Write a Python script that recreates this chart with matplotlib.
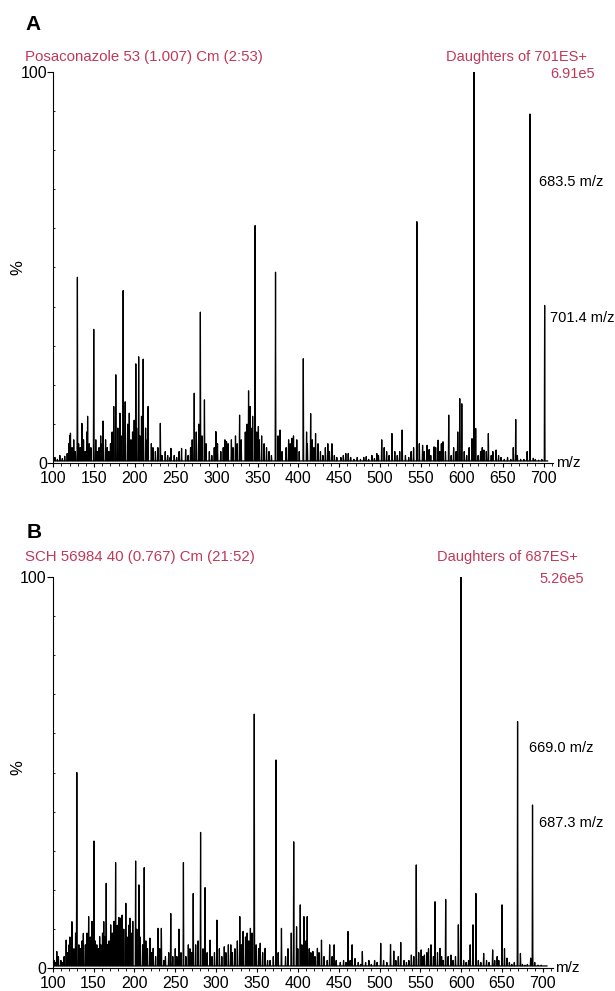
import numpy as np
import matplotlib.pyplot as plt
from matplotlib.ticker import MultipleLocator

plt.rcParams['font.family'] = ['Liberation Sans', 'DejaVu Sans']

RED = '#c0395a'

# Спектр A: основные пики (m/z, %)
peaks_a_mz = [121, 129.5, 135, 142, 149.5, 161, 174, 176.5, 181.5, 185.5,
              188, 193, 201, 204.5, 210, 216, 231, 244, 257, 272.5,
              280, 285, 299, 312, 328, 339, 341, 347, 351, 372,
              377.5, 392, 398, 406, 410, 415, 421, 436, 441, 458,
              483, 496, 502, 514.5, 527, 545, 552, 557.5, 566, 571,
              577, 584, 597.5, 600, 612.5, 615, 617, 627, 632.5, 642,
              666, 683.5, 687.5, 701.4]
peaks_a_pct = [7.7, 47.5, 10.2, 12, 34.2, 10.8, 14.5, 22.6, 12.8, 44.1,
               15.7, 12.8, 25.4, 27.2, 26.6, 14.5, 10.2, 3.8, 3.8, 17.9,
               38.6, 16.2, 8.1, 5.5, 12.3, 18.5, 14.5, 60.7, 9.4, 48.8,
               8.5, 6.4, 6, 26.7, 8, 12.7, 7.6, 5, 5, 2.5,
               1.7, 2.5, 6, 7.6, 8.5, 61.7, 4.6, 4.6, 4.2, 5.9,
               5.5, 12.3, 16.5, 15.2, 6.3, 100, 8.9, 3.4, 7.6, 3.4,
               11.2, 89.2, 1.3, 40.3]

# Спектр A: мелкие пики (шум)
noise_a_mz = [102, 105, 108, 111, 114, 117, 119, 120, 123, 125, 127, 131, 133, 137, 139,
              141, 144, 146, 152, 154, 156, 158, 160, 164, 166, 168, 170, 172,
              179, 183, 191, 195, 197, 199, 202, 206, 208, 213, 215, 220, 222, 225, 228, 233, 237,
              240, 243, 248, 251, 254, 262, 265, 268, 270, 275, 278, 282, 287, 291, 294, 297, 301, 305,
              308, 310, 314, 318, 320, 323, 325, 330, 335, 337, 342, 344, 349, 352, 355, 358, 361, 364,
              367, 375, 380, 385, 388, 390, 394, 396, 401, 411, 417, 419, 424, 427, 430, 433, 438, 444, 447,
              452, 455, 461, 464, 468, 472, 476, 480, 486, 490, 493, 498,
              505, 508, 511, 518, 521, 524, 531, 535, 538, 541, 548, 554, 560, 562, 568, 573, 575, 580,
              587, 590, 593, 595,
              603, 606, 609, 620, 623, 625, 630, 636, 638, 645, 648, 652, 656, 660, 663, 668, 672, 676,
              680, 690, 694, 698]
noise_a_pct = [1.5, 1.0, 2.0, 1.2, 1.8, 2.5, 5, 7, 4, 6, 3, 5, 4, 6, 3,
               8, 5, 4, 6, 3, 4, 7, 5, 6, 4, 3, 5, 8,
               9, 7, 10, 6, 8, 11, 9, 7, 12, 9, 6, 5, 4, 3, 4, 2, 3,
               2, 1.5, 2, 1.5, 3, 3.5, 2, 4, 6, 8, 10, 7, 5, 3, 2, 4, 5, 3,
               4, 6, 5, 6, 4, 7, 5, 6, 8, 10, 9, 12, 8, 6, 7, 5, 4, 3,
               2, 7, 3, 4, 6, 5, 7, 4, 3, 5, 6, 4, 5, 3, 2, 4, 3, 2, 1.5,
               1.5, 2, 2.5, 1.5, 1, 1.5, 1, 1.5, 1, 2, 1.2, 2,
               4, 3, 2, 3, 2, 3, 2, 1.5, 3, 4, 5, 3, 3.5, 2, 4, 3, 5, 3,
               2, 4, 3, 8,
               3, 2, 4, 2, 3, 4, 3, 2, 3, 2, 1.5, 1, 1.5, 1, 4, 2, 1, 1,
               3, 1, 0.8, 1]

# Спектр B: основные пики
peaks_b_mz = [105, 116.5, 123.5, 129.5, 137.5, 144, 150.5, 157.5, 162.5, 165.5,
              171, 177, 183, 185, 189.5, 194.5, 201.5, 205.5, 212, 219,
              223, 229, 233, 244.5, 254.5, 260, 266, 272, 281, 286.5,
              292.5, 301, 310, 318, 329, 333, 342, 346.7, 354, 360,
              373.4, 380, 395, 398.5, 403, 407.5, 411.5, 418.5, 424, 429,
              439, 444.5, 461.5, 466.5, 479, 501.5, 513.5, 517.5, 526, 539,
              545, 551, 555, 563, 568, 574, 581, 587.5, 596.5, 599.6,
              614.5, 618, 627.5, 638.5, 650, 656, 669.0, 672.5, 685, 687.3]
peaks_b_pct = [4.3, 7.2, 11.9, 50, 8.9, 13.2, 32.5, 8.1, 11.9, 21.7,
               11.1, 27, 12.8, 13.6, 16.6, 12.8, 27.4, 21.3, 25.7, 7.7,
               5.1, 10.2, 10.2, 14, 10, 27, 6, 19.1, 34.7, 20.6,
               7.2, 12.3, 5.5, 6, 13.2, 9.4, 10.2, 64.9, 6.4, 5.1,
               53.2, 10.2, 32.3, 10.6, 16.2, 13.2, 13.2, 4.3, 5.1, 7.2,
               6, 6, 9.4, 6, 4.3, 6.4, 6.1, 4.4, 6.6, 3.4,
               26.4, 4.7, 3.4, 6, 17, 5.1, 17.6, 3.4, 11.1, 100,
               11.1, 19.1, 3.8, 4.7, 16.2, 2.6, 63, 3.8, 2.6, 41.7]

# Спектр B: шум
noise_b_mz = [102, 104, 107, 110, 112, 114, 118,
              120, 121, 126, 128, 132, 134, 136, 140, 142, 146, 148, 152, 154, 156, 159, 161, 164,
              167, 169, 173, 175, 179, 181, 187, 191, 193, 196, 198, 203, 207, 210, 214, 216, 221,
              226, 231, 236, 238,
              242, 247, 250, 252, 257, 263, 268, 270, 275, 278, 284, 289, 295, 298, 304, 307, 312,
              315, 320, 323, 326, 331, 336, 338, 340, 344, 349, 352, 357,
              363, 366, 370, 376, 385, 388, 392, 400, 405, 410, 414, 416, 421, 426, 432, 436, 442, 447,
              452, 456, 459, 464, 470, 474, 477, 483, 487, 490, 494, 497, 505, 509, 520, 523, 530,
              533, 536, 542, 548, 553, 558, 560, 566, 571, 576, 578, 584, 590, 593,
              603, 606, 609, 611, 621, 624, 631, 634, 641, 644, 646, 653, 659, 662, 665, 675, 678,
              681, 690, 694, 698]
noise_b_pct = [2, 1.5, 3, 2, 1.5, 3, 4,
               6, 8, 5, 9, 6, 5, 7, 6, 9, 8, 12, 7, 6, 5, 6, 9, 8,
               6, 7, 9, 12, 11, 13, 10, 8, 11, 9, 12, 10, 8, 6, 7, 5, 4,
               3, 5, 2, 3,
               4, 3, 5, 3, 4, 3, 5, 4, 6, 7, 5, 4, 3, 4, 5, 3, 4,
               6, 4, 5, 7, 6, 8, 9, 7, 9, 6, 5, 4,
               2, 2, 3, 4, 3, 5, 9, 5, 6, 7, 5, 4, 3, 4, 3, 2, 3, 2,
               1.5, 2, 1.5, 2, 2.5, 1.5, 1, 1.5, 2, 1, 2, 1.5, 2, 1.5, 2, 3, 2,
               1.5, 2, 3, 4, 3, 4, 5, 3, 4, 3, 2, 3, 2, 3,
               2, 1.5, 2, 6, 2, 1.5, 2, 1.5, 2, 3, 2, 5, 1.5, 1, 1.5, 1, 0.8,
               1, 1.5, 0.8, 0.8]


def spectrum_trace(mz, pct, half_width=0.45, floor=0.6):
    m = np.asarray(mz, dtype=float)
    h = np.asarray(pct, dtype=float)
    order = np.argsort(m)
    m, h = m[order], h[order]
    fl = np.full_like(h, floor)
    x = np.column_stack([m - half_width, m, m + half_width]).ravel()
    y = np.column_stack([fl, h, fl]).ravel()
    x = np.concatenate([[100], x, [705]])
    y = np.concatenate([[floor], y, [floor]])
    return x, y


def setup_axes(ax):
    ax.set_xlim(100, 712)
    ax.set_ylim(0, 100)
    for side in ['top', 'right']:
        ax.spines[side].set_visible(False)
    for side in ['left', 'bottom']:
        ax.spines[side].set_linewidth(0.8)
    ax.set_xticks(range(100, 701, 50))
    ax.xaxis.set_minor_locator(MultipleLocator(10))
    ax.set_yticks([0, 100])
    ax.yaxis.set_minor_locator(MultipleLocator(10))
    ax.tick_params(axis='x', which='major', length=3, width=0.8, pad=2.5, labelsize=11.5)
    ax.tick_params(axis='x', which='minor', length=2, width=0.6)
    ax.tick_params(axis='y', which='major', length=4, width=0.8, pad=0.5, labelsize=11.5)
    ax.tick_params(axis='y', which='minor', direction='in', length=1.5, width=0.6)
    ax.text(715, 0, 'm/z', fontsize=11, va='center', ha='left')


W, H = 615, 991
fig = plt.figure(figsize=(W / 100, H / 100), dpi=100)

px_per_mz = 0.817
ax_a = fig.add_axes([53.3 / W, (H - 463.3) / H, 612 * px_per_mz / W, 391.6 / H])
ax_b = fig.add_axes([52.7 / W, (H - 968.3) / H, 612 * px_per_mz / W, 391.6 / H])

xa, ya = spectrum_trace(peaks_a_mz + noise_a_mz, peaks_a_pct + noise_a_pct)
ax_a.plot(xa, ya, color='black', lw=0.9)
setup_axes(ax_a)
ax_a.text(694.5, 71.8, '683.5 m/z', fontsize=10.5, va='center')
ax_a.text(707.8, 37.1, '701.4 m/z', fontsize=10.5, va='center')

xb, yb = spectrum_trace(peaks_b_mz + noise_b_mz, peaks_b_pct + noise_b_pct)
ax_b.plot(xb, yb, color='black', lw=0.9)
setup_axes(ax_b)
ax_b.text(683, 56.3, '669.0 m/z', fontsize=10.5, va='center')
ax_b.text(695.2, 37.1, '687.3 m/z', fontsize=10.5, va='center')

# подписи панелей
fig.text(25 / W, 1 - 25 / H, 'A', fontsize=15, fontweight='bold', va='center')
fig.text(25 / W, 1 - 57 / H, 'Posaconazole 53 (1.007) Cm (2:53)', color=RED, fontsize=10.8, va='center')
fig.text(587 / W, 1 - 57 / H, 'Daughters of 701ES+', color=RED, fontsize=10.5, va='center', ha='right')
fig.text(595 / W, 1 - 74 / H, '6.91e5', color=RED, fontsize=10.5, va='center', ha='right')
fig.text(18 / W, 1 - 268 / H, '%', fontsize=12, rotation=90, va='center', ha='center')

fig.text(27 / W, 1 - 532 / H, 'B', fontsize=15, fontweight='bold', va='center')
fig.text(25 / W, 1 - 557 / H, 'SCH 56984 40 (0.767) Cm (21:52)', color=RED, fontsize=10.8, va='center')
fig.text(578 / W, 1 - 557 / H, 'Daughters of 687ES+', color=RED, fontsize=10.5, va='center', ha='right')
fig.text(584 / W, 1 - 579 / H, '5.26e5', color=RED, fontsize=10.5, va='center', ha='right')
fig.text(18 / W, 1 - 768 / H, '%', fontsize=12, rotation=90, va='center', ha='center')

fig.savefig('out.png', dpi=100)
